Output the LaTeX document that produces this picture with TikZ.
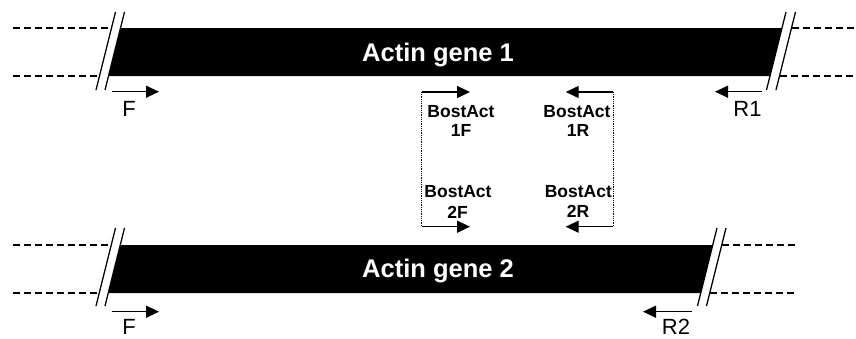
\documentclass[tikz,border=0pt]{standalone}
\usepackage{fontspec}
\setmainfont{Liberation Sans}
\usetikzlibrary{arrows.meta}
\tikzset{
  genebar/.style={fill=black,draw=none},
  slashline/.style={line width=1.3pt},
  dashline/.style={line width=1.2pt,dash pattern=on 7pt off 4pt},
  dotline/.style={line width=0.8pt,dash pattern=on 0.9pt off 0.9pt},
  primer/.style={line width=1.3pt,-{Triangle[length=13pt,width=12pt]}},
  genetext/.style={text=white,font=\bfseries\fontsize{25.5}{28}\selectfont,anchor=base,inner sep=0pt},
  plabel/.style={font=\fontsize{22}{24}\selectfont,anchor=base,inner sep=0pt},
  blabel/.style={font=\bfseries\fontsize{17.5}{19}\selectfont,anchor=base,inner sep=0pt}
}
\begin{document}
\begin{tikzpicture}[x=1pt,y=-1pt]
\useasboundingbox (0,0) rectangle (856,338);
% ---------- gene 1 ----------
\coordinate (g1tl) at (120.5,28);
\coordinate (g1tr) at (782,28);
\coordinate (g1br) at (770,76);
\coordinate (g1bl) at (108.5,76);
\fill[genebar] (g1tl) -- (g1tr) -- (g1br) -- (g1bl) -- cycle;
\draw[slashline] (115.5,12) -- (96,90);
\draw[slashline] (124.5,12) -- (105,90);
\draw[slashline] (786,12) -- (766.5,90);
\draw[slashline] (795.5,12) -- (776,90);
\draw[dashline] (13,28) -- (111.5,28);
\draw[dashline] (13,76) -- (99.5,76);
\draw[dashline] (791.5,28) -- (856,28);
\draw[dashline] (779.5,76) -- (856,76);
\node[genetext] (gene1) at (438,61.7) {Actin gene 1};
% ---------- gene 2 ----------
\coordinate (g2tl) at (120.25,245);
\coordinate (g2tr) at (712.75,245);
\coordinate (g2br) at (700.75,293);
\coordinate (g2bl) at (108.25,293);
\fill[genebar] (g2tl) -- (g2tr) -- (g2br) -- (g2bl) -- cycle;
\draw[slashline] (115.5,228) -- (96,306);
\draw[slashline] (124.5,228) -- (105,306);
\draw[slashline] (717,228) -- (697.5,306);
\draw[slashline] (726,228) -- (706.5,306);
\draw[dashline] (13,245) -- (111.25,245);
\draw[dashline] (13,293) -- (99.25,293);
\draw[dashline] (721.75,245) -- (797,245);
\draw[dashline] (709.75,293) -- (797,293);
\node[genetext] (gene2) at (438,277.3) {Actin gene 2};
% ---------- outer primers ----------
\coordinate (f1s) at (111.7,91.7);  \coordinate (f1e) at (159,91.7);
\coordinate (r1s) at (761.7,91.7);  \coordinate (r1e) at (715,91.7);
\coordinate (f2s) at (111.7,311.7); \coordinate (f2e) at (159,311.7);
\coordinate (r2s) at (691.7,311.7); \coordinate (r2e) at (643,311.7);
\draw[primer] (f1s) -- (f1e);
\draw[primer] (r1s) -- (r1e);
\draw[primer] (f2s) -- (f2e);
\draw[primer] (r2s) -- (r2e);
\node[plabel] (F1) at (129,116.7) {F};
\node[plabel] (R1) at (747.5,116.7) {R1};
\node[plabel] (F2) at (129,334.5) {F};
\node[plabel] (R2) at (676,334.5) {R2};
% ---------- inner primers ----------
\coordinate (b1fs) at (421.7,92);  \coordinate (b1fe) at (470,92);
\coordinate (b1rs) at (613.3,92);  \coordinate (b1re) at (565.7,92);
\coordinate (b2fs) at (421.7,226.7); \coordinate (b2fe) at (470,226.7);
\coordinate (b2rs) at (613.3,226.7); \coordinate (b2re) at (565.7,226.7);
\draw[dotline] (b1fs) -- (b2fs);
\draw[dotline] (b1rs) -- (b2rs);
\draw[primer] (b1fs) -- (b1fe);
\draw[primer] (b1rs) -- (b1re);
\draw[primer] (b2fs) -- (b2fe);
\draw[primer] (b2rs) -- (b2re);
\node[blabel] (b1fa) at (461,117.7) {BostAct};
\node[blabel] (b1fb) at (461,136.7) {1F};
\node[blabel] (b1ra) at (577,117.7) {BostAct};
\node[blabel] (b1rb) at (578,136.7) {1R};
\node[blabel] (b2fa) at (458,197.7) {BostAct};
\node[blabel] (b2fb) at (457.5,218.3) {2F};
\node[blabel] (b2ra) at (578.3,197.5) {BostAct};
\node[blabel] (b2rb) at (578,217.5) {2R};
\end{tikzpicture}
\end{document}
